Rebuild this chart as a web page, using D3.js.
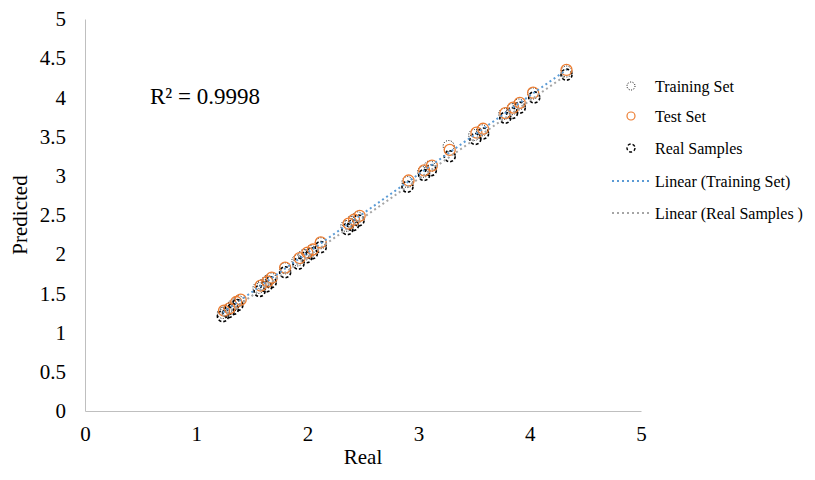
<!DOCTYPE html>
<meta charset="utf-8">
<style>
body { margin: 0; background: #fff; }
text { font-family: "Liberation Serif", "Times New Roman", serif; fill: #000; }
.axis path { stroke: #bfbfbf; }
.axis text { font-size: 21px; }
</style>
<body>
<script src="https://d3js.org/d3.v7.min.js"></script>
<script>

var width = 815,
    height = 480;

// values: [real, predicted]
var trainingSet = [
    [1.24, 1.25], [1.27, 1.28], [1.31, 1.32], [1.34, 1.36], [1.38, 1.40],
    [1.56, 1.57], [1.60, 1.61], [1.64, 1.66], [1.67, 1.69], [1.80, 1.82],
    [1.91, 1.92], [1.97, 1.99], [2.03, 2.04], [2.12, 2.14], [2.35, 2.36],
    [2.39, 2.41], [2.45, 2.47], [2.90, 2.92], [3.04, 3.05], [3.10, 3.12],
    [3.27, 3.38], [3.50, 3.52], [3.57, 3.58], [3.77, 3.79], [3.84, 3.85],
    [3.90, 3.91], [4.03, 4.05], [4.33, 4.33]
];

var testSet = [
    [1.25, 1.28], [1.30, 1.31], [1.36, 1.39], [1.40, 1.42], [1.58, 1.60],
    [1.64, 1.65], [1.68, 1.70], [1.80, 1.83], [1.93, 1.95], [2.00, 2.02],
    [2.05, 2.06], [2.12, 2.15], [2.37, 2.39], [2.42, 2.44], [2.47, 2.49],
    [2.91, 2.94], [3.05, 3.07], [3.12, 3.13], [3.28, 3.33], [3.52, 3.55],
    [3.58, 3.60], [3.78, 3.80], [3.85, 3.87], [3.91, 3.93], [4.03, 4.06],
    [4.33, 4.35]
];

var realSamples = [
    [1.24, 1.21], [1.29, 1.26], [1.33, 1.30], [1.37, 1.35], [1.57, 1.53],
    [1.63, 1.59], [1.67, 1.64], [1.80, 1.77], [1.92, 1.88], [1.99, 1.96],
    [2.04, 2.01], [2.12, 2.09], [2.36, 2.32], [2.41, 2.37], [2.46, 2.43],
    [2.90, 2.86], [3.05, 3.01], [3.11, 3.07], [3.28, 3.25], [3.51, 3.47],
    [3.58, 3.54], [3.78, 3.74], [3.84, 3.80], [3.91, 3.87], [4.04, 4.00],
    [4.33, 4.29]
];

var xTicks = [0, 1, 2, 3, 4, 5];
var yTicks = [0, 0.5, 1, 1.5, 2, 2.5, 3, 3.5, 4, 4.5, 5];

var legendLabels = ["Training Set", "Test Set", "Real Samples",
                    "Linear (Training Set)", "Linear (Real Samples )"];
var r2Label = "R² = 0.9998";

var svg = d3.select("body").append("svg")
    .attr("width", width)
    .attr("height", height);

var x = d3.scaleLinear().domain([0, 5]).range([85, 641]);
var y = d3.scaleLinear().domain([0, 5]).range([411, 19]);

svg.append("g")
    .attr("class", "axis")
    .attr("transform", "translate(0," + y(0) + ")")
    .call(d3.axisBottom(x).tickValues(xTicks).tickSize(0).tickPadding(12).tickFormat(d3.format("")))
    .call(g => g.selectAll("text").attr("dy", "0.85em"));

svg.append("g")
    .attr("class", "axis")
    .attr("transform", "translate(" + x(0) + ",0)")
    .call(d3.axisLeft(y).tickValues(yTicks).tickSize(0).tickPadding(19).tickFormat(d3.format("")));

svg.selectAll(".axis").attr("font-family", null).attr("font-size", null);

svg.append("text")
    .attr("x", 363).attr("y", 464)
    .attr("text-anchor", "middle")
    .style("font-size", "21px")
    .text("Real");

svg.append("text")
    .attr("transform", "translate(27,215) rotate(-90)")
    .attr("text-anchor", "middle")
    .style("font-size", "21px")
    .text("Predicted");

svg.append("text")
    .attr("x", 150).attr("y", 104)
    .style("font-size", "23px")
    .text(r2Label);

// least squares fit, drawn over the range of the data
function fitLine(data) {
    var mx = d3.mean(data, d => d[0]),
        my = d3.mean(data, d => d[1]);
    var b = d3.sum(data, d => (d[0] - mx) * (d[1] - my)) / d3.sum(data, d => (d[0] - mx) * (d[0] - mx));
    var a = my - b * mx;
    var ext = d3.extent(data, d => d[0]);
    return ext.map(v => [v, a + b * v]);
}

var line = d3.line().x(d => x(d[0])).y(d => y(d[1]));

function dots(data, stroke, dash, sw) {
    svg.append("g").selectAll("circle")
        .data(data)
      .enter().append("circle")
        .attr("cx", d => x(d[0]))
        .attr("cy", d => y(d[1]))
        .attr("r", 5.5)
        .attr("fill", "none")
        .attr("stroke", stroke)
        .attr("stroke-width", sw)
        .attr("stroke-dasharray", dash);
}

dots(realSamples, "#000", "3,2", 1.6);
dots(trainingSet, "#000", "1,1.5", 1);
dots(testSet, "#ed7d31", null, 1.3);

svg.append("path")
    .datum(fitLine(realSamples))
    .attr("d", line)
    .attr("fill", "none")
    .attr("stroke", "#a5a5a5")
    .attr("stroke-width", 2)
    .attr("stroke-dasharray", "2,3");

svg.append("path")
    .datum(fitLine(trainingSet))
    .attr("d", line)
    .attr("fill", "none")
    .attr("stroke", "#5b9bd5")
    .attr("stroke-width", 2)
    .attr("stroke-dasharray", "2,3");

// legend
var legendY = [86, 116, 148, 181, 213];
var legend = svg.append("g");

legend.append("circle").attr("cx", 631).attr("cy", legendY[0]).attr("r", 4)
    .attr("fill", "none").attr("stroke", "#000").attr("stroke-width", 1).attr("stroke-dasharray", "1,1.5");
legend.append("circle").attr("cx", 631).attr("cy", legendY[1]).attr("r", 4)
    .attr("fill", "none").attr("stroke", "#ed7d31").attr("stroke-width", 1.2);
legend.append("circle").attr("cx", 631).attr("cy", legendY[2]).attr("r", 4)
    .attr("fill", "none").attr("stroke", "#000").attr("stroke-width", 1.4).attr("stroke-dasharray", "3,2");
legend.append("line").attr("x1", 612).attr("x2", 650).attr("y1", legendY[3]).attr("y2", legendY[3])
    .attr("stroke", "#5b9bd5").attr("stroke-width", 2).attr("stroke-dasharray", "2,3");
legend.append("line").attr("x1", 612).attr("x2", 650).attr("y1", legendY[4]).attr("y2", legendY[4])
    .attr("stroke", "#a5a5a5").attr("stroke-width", 2).attr("stroke-dasharray", "2,3");

legend.selectAll("text")
    .data(legendLabels)
  .enter().append("text")
    .attr("x", 655)
    .attr("y", (d, i) => legendY[i])
    .attr("dy", "0.35em")
    .style("font-size", "16px")
    .text(d => d);

</script>
